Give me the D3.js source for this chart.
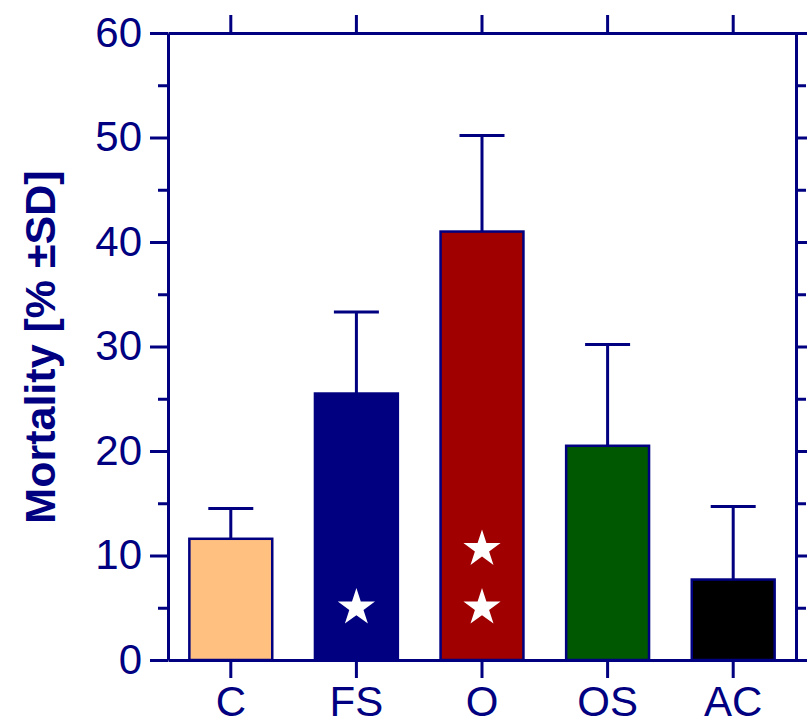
<!DOCTYPE html>
<html>
<head>
<meta charset="utf-8">
<script src="https://cdn.jsdelivr.net/npm/d3@7"></script>
<style>
  html, body { margin: 0; padding: 0; background: #fff; }
  svg { display: block; }
  text { font-family: "Liberation Sans", Arial, sans-serif; }
</style>
</head>
<body>
<svg id="chart" width="807" height="722"></svg>
<script>
// Mortality per treatment group (mean and SD, %)
const categories = ["C", "FS", "O", "OS", "AC"];
const means = [11.6, 25.5, 41.0, 20.5, 7.7];
const sds = [2.9, 7.8, 9.2, 9.7, 7.0];
const barColors = ["#FFC080", "#000080", "#A00000", "#005800", "#000000"];
// significance stars: category and height (in % units) of each star
const starGroups = ["FS", "O", "O"];
const starLevels = [5.2, 5.2, 10.8];
const majorTicks = [0, 10, 20, 30, 40, 50, 60];
const minorTicks = [5, 15, 25, 35, 45, 55];

const navy = "#000080";
const W = 807, H = 722;
const margin = { left: 168, right: 11, top: 33, bottom: 62 };

const svg = d3.select("#chart");

const x = d3.scaleBand()
  .domain(categories)
  .range([margin.left, W - margin.right])
  .paddingInner(0.34)
  .paddingOuter(0.17);

const y = d3.scaleLinear()
  .domain([0, 60])
  .range([H - margin.bottom, margin.top]);

const plotL = margin.left, plotR = W - margin.right;
const plotT = margin.top, plotB = H - margin.bottom;

// bars
svg.append("g").selectAll("rect")
  .data(categories)
  .join("rect")
  .attr("x", d => x(d))
  .attr("width", x.bandwidth())
  .attr("y", (d, i) => y(means[i]))
  .attr("height", (d, i) => y(0) - y(means[i]))
  .attr("fill", (d, i) => barColors[i])
  .attr("stroke", navy)
  .attr("stroke-width", 2.5);

// upper error bars
const capW = 45;
const err = svg.append("g").attr("stroke", navy).attr("stroke-width", 3);
categories.forEach((c, i) => {
  const cx = x(c) + x.bandwidth() / 2;
  err.append("line")
    .attr("x1", cx).attr("x2", cx)
    .attr("y1", y(means[i])).attr("y2", y(means[i] + sds[i]));
  err.append("line")
    .attr("x1", cx - capW / 2).attr("x2", cx + capW / 2)
    .attr("y1", y(means[i] + sds[i])).attr("y2", y(means[i] + sds[i]));
});

// white stars inside bars
const star = d3.symbol().type(d3.symbolStar).size(430);
svg.append("g").selectAll("path")
  .data(starGroups)
  .join("path")
  .attr("d", star)
  .attr("fill", "#fff")
  .attr("transform", (d, i) =>
    `translate(${x(d) + x.bandwidth() / 2},${y(starLevels[i]) + 2})`);

function styleAxis(g) {
  g.selectAll(".domain").attr("stroke", navy).attr("stroke-width", 3);
  g.selectAll(".tick line").attr("stroke", navy).attr("stroke-width", 3);
  g.selectAll("text").attr("fill", navy).attr("font-size", 42);
}

// left axis: major labelled ticks plus minor ticks
svg.append("g")
  .attr("transform", `translate(${plotL},0)`)
  .call(d3.axisLeft(y).tickValues(majorTicks).tickSize(18).tickPadding(8).tickSizeOuter(0))
  .call(styleAxis);
svg.append("g")
  .attr("transform", `translate(${plotL},0)`)
  .call(d3.axisLeft(y).tickValues(minorTicks).tickSize(10).tickFormat("").tickSizeOuter(0))
  .call(styleAxis)
  .call(g => g.select(".domain").remove());

// right axis: mirrored ticks, no labels
svg.append("g")
  .attr("transform", `translate(${plotR},0)`)
  .call(d3.axisRight(y).tickValues(majorTicks).tickSize(18).tickFormat("").tickSizeOuter(0))
  .call(styleAxis);
svg.append("g")
  .attr("transform", `translate(${plotR},0)`)
  .call(d3.axisRight(y).tickValues(minorTicks).tickSize(10).tickFormat("").tickSizeOuter(0))
  .call(styleAxis)
  .call(g => g.select(".domain").remove());

// bottom axis with category labels
svg.append("g")
  .attr("transform", `translate(0,${plotB})`)
  .call(d3.axisBottom(x).tickSize(18).tickPadding(8).tickSizeOuter(0))
  .call(styleAxis);

// top axis, ticks only
svg.append("g")
  .attr("transform", `translate(0,${plotT})`)
  .call(d3.axisTop(x).tickSize(18).tickFormat("").tickSizeOuter(0))
  .call(styleAxis);

// y-axis title
svg.append("text")
  .attr("transform", `translate(55,${(167 + 527) / 2}) rotate(-90)`)
  .attr("text-anchor", "middle")
  .attr("font-size", 43)
  .attr("font-weight", "bold")
  .attr("fill", navy)
  .text("Mortality [% ±SD]");
</script>
</body>
</html>
